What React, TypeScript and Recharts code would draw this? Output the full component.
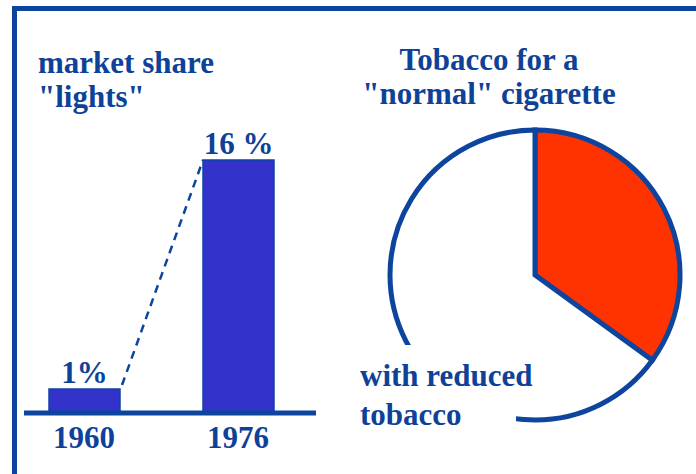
import React from 'react';
import { BarChart, Bar, XAxis, YAxis, LabelList, PieChart, Pie, Cell } from 'recharts';

const years = [1960, 1976];
const shares = [1, 16];
const shareLabels = ['1%', '16 %'];
const pieNames = ['normal', 'reduced'];
const pieValues = [35, 65];
const pieColors = ['#ff3300', '#ffffff'];

const barData = years.map((y, i) => ({ year: y, share: shares[i], label: shareLabels[i] }));
const pieData = pieNames.map((n, i) => ({ name: n, value: pieValues[i] }));

const BLUE = '#0d459e';
const TEXT = '#0e4299';
const FONT = '"Liberation Serif", "Times New Roman", serif';

const geom: { x: number; y: number; width: number; height: number }[] = [];

function BarShape(props: any) {
  const { x, y, width, height, index } = props;
  geom[index] = { x, y, width, height };
  const prev = index > 0 ? geom[index - 1] : null;
  return (
    <g>
      <rect x={x} y={y} width={width} height={height} fill="#3333cc" stroke={BLUE} strokeWidth={1.5} />
      {prev && (
        <line
          x1={prev.x + prev.width + 2}
          y1={prev.y - 4}
          x2={x}
          y2={y}
          stroke={BLUE}
          strokeWidth={2.5}
          strokeDasharray="8 6"
        />
      )}
    </g>
  );
}

function YearTick(props: any) {
  const { x, y, payload } = props;
  return (
    <text x={x} y={y} dy={35} textAnchor="middle" fill={TEXT} fontFamily={FONT} fontWeight="bold" fontSize={31}>
      {payload.value}
    </text>
  );
}

const textStyle = { fill: TEXT, fontFamily: FONT, fontWeight: 'bold' as const, fontSize: 31 };

export default function App() {
  return (
    <div style={{ position: 'absolute', left: 0, top: 0, width: 696, height: 474, overflow: 'hidden', background: '#fff' }}>
      <div
        style={{
          position: 'absolute',
          left: 12,
          top: 6,
          width: 760,
          height: 560,
          borderLeft: `5px solid ${BLUE}`,
          borderTop: `5px solid ${BLUE}`,
          boxSizing: 'border-box',
        }}
      />
      <div style={{ position: 'absolute', left: 0, top: 0 }}>
        <BarChart width={340} height={474} data={barData} margin={{ top: 160, left: 24, right: 24, bottom: 0 }}>
          <YAxis hide type="number" domain={[0, 16]} />
          <Bar dataKey="share" barSize={71} minPointSize={24} shape={BarShape} isAnimationActive={false}>
            <LabelList dataKey="label" position="top" offset={6} {...textStyle} />
          </Bar>
          <XAxis
            dataKey="year"
            type="number"
            domain={['dataMin', 'dataMax']}
            ticks={years}
            padding={{ left: 60, right: 78 }}
            height={61}
            tickLine={false}
            tickSize={0}
            tickMargin={0}
            axisLine={{ stroke: BLUE, strokeWidth: 5 }}
            tick={<YearTick />}
          />
        </BarChart>
      </div>
      <div style={{ position: 'absolute', left: 340, top: 0 }}>
        <PieChart width={356} height={474} margin={{ top: 0, left: 0, right: 0, bottom: 0 }}>
          <Pie
            data={pieData}
            dataKey="value"
            nameKey="name"
            cx={195}
            cy={275}
            outerRadius={145}
            startAngle={90}
            endAngle={-270}
            stroke={BLUE}
            strokeWidth={5}
            isAnimationActive={false}
          >
            {pieData.map((d, i) => (
              <Cell key={d.name} fill={pieColors[i]} stroke={BLUE} strokeWidth={5} />
            ))}
          </Pie>
        </PieChart>
      </div>
      <svg width={696} height={474} style={{ position: 'absolute', left: 0, top: 0, pointerEvents: 'none' }}>
        <text x={38} y={73} {...textStyle}>market share</text>
        <text x={38} y={107} {...textStyle}>"lights"</text>
        <text x={489} y={70} textAnchor="middle" {...textStyle}>Tobacco for a</text>
        <text x={489} y={104} textAnchor="middle" {...textStyle}>"normal" cigarette</text>
        <rect x={350} y={345} width={166} height={100} fill="#ffffff" />
        <text x={360} y={386} {...textStyle}>with reduced</text>
        <text x={360} y={425} {...textStyle}>tobacco</text>
      </svg>
    </div>
  );
}
